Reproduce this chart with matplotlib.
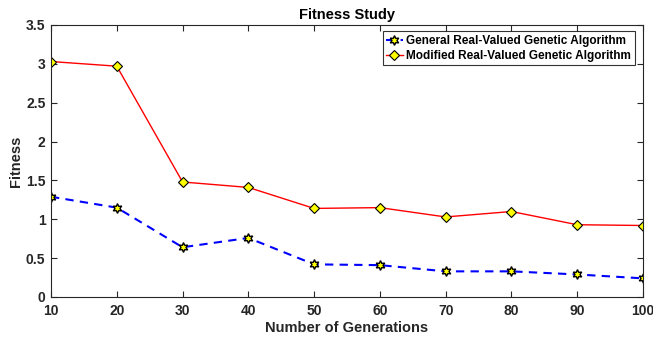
import matplotlib
matplotlib.use("Agg")
import matplotlib.pyplot as plt

generations = [10, 20, 30, 40, 50, 60, 70, 80, 90, 100]
general = [1.29, 1.15, 0.64, 0.76, 0.42, 0.41, 0.33, 0.33, 0.29, 0.24]
modified = [3.03, 2.97, 1.48, 1.41, 1.14, 1.15, 1.03, 1.10, 0.93, 0.92]
xticks = [10, 20, 30, 40, 50, 60, 70, 80, 90, 100]
yticks = [0, 0.5, 1, 1.5, 2, 2.5, 3, 3.5]
ylabels = ["0", "0.5", "1", "1.5", "2", "2.5", "3", "3.5"]

plt.rcParams['font.family'] = ['Liberation Sans', 'DejaVu Sans']
plt.rcParams['font.weight'] = 'bold'

fig = plt.figure(figsize=(6.53, 3.37), dpi=100)
ax = fig.add_axes([51/653, 40/337, 592/653, 272/337])

ax.plot(generations, general, linestyle='--', color='blue', lw=1.5,
        marker=(6, 1, 0), markersize=7, markerfacecolor='yellow',
        markeredgecolor='black', markeredgewidth=1.0,
        label='General Real-Valued Genetic Algorithm', dashes=(4, 3))
ax.plot(generations, modified, linestyle='-', color='red', lw=1.0,
        marker='D', markersize=5.5, markerfacecolor='yellow',
        markeredgecolor='black', markeredgewidth=0.8,
        label='Modified Real-Valued Genetic Algorithm')

ax.set_xlim(10, 100)
ax.set_ylim(0, 3.5)
ax.set_xticks(xticks)
ax.set_yticks(yticks)
ax.set_yticklabels(ylabels)
ax.tick_params(direction='in', top=True, right=True, labelsize=10,
               length=4, width=0.8, colors='#262626')
ax.tick_params(axis='x', pad=5)
ax.tick_params(axis='y', pad=4)
for lbl in ax.get_xticklabels() + ax.get_yticklabels():
    lbl.set_fontweight('bold')
for s in ax.spines.values():
    s.set_color('#262626')
    s.set_linewidth(0.8)

ax.set_xlabel('Number of Generations', fontsize=10.5, fontweight='bold',
              labelpad=2, color='#262626')
ax.set_ylabel('Fitness', fontsize=10.5, fontweight='bold', labelpad=2,
              color='#262626')
ax.set_title('Fitness Study', fontsize=10.5, fontweight='bold', pad=4)

leg = ax.legend(loc='upper right', bbox_to_anchor=(0.99, 0.985), fontsize=8.5,
                frameon=True, fancybox=False, edgecolor='black',
                handlelength=1.4, borderpad=0.3, labelspacing=0.25,
                handletextpad=0.3, borderaxespad=0.2)
leg.get_frame().set_linewidth(0.8)
for t in leg.get_texts():
    t.set_fontweight('bold')

fig.savefig('out.png', dpi=100)
